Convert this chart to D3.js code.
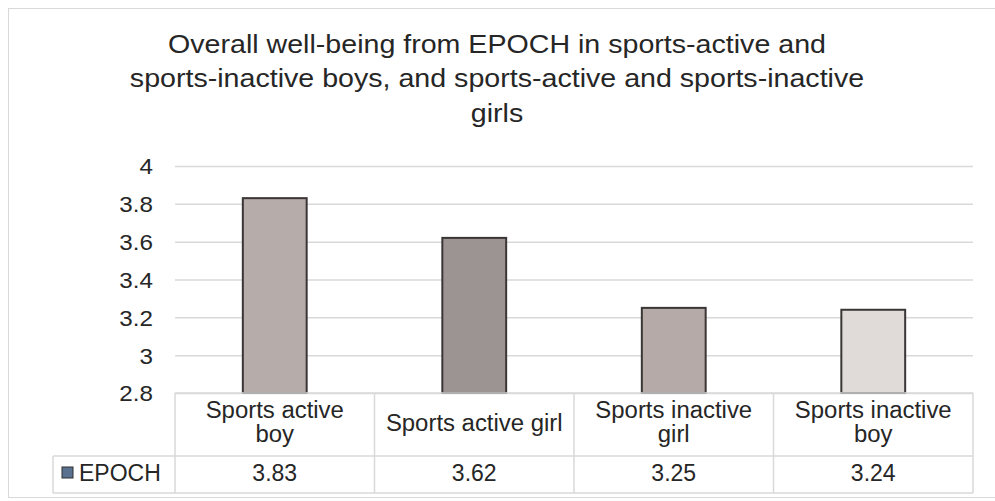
<!DOCTYPE html>
<html>
<head>
<meta charset="utf-8">
<script src="https://cdn.jsdelivr.net/npm/d3@7"></script>
<style>
  html, body { margin: 0; padding: 0; background: #fff; }
  svg text { font-family: "Liberation Sans", Arial, sans-serif; fill: #262626; }
</style>
</head>
<body>
<div class="chart"></div>
<script>
const categories = ['Sports active boy', 'Sports active girl', 'Sports inactive girl', 'Sports inactive boy'];
const categoryLines = [['Sports active', 'boy'], ['Sports active girl'], ['Sports inactive', 'girl'], ['Sports inactive', 'boy']];
const epochValues = [3.83, 3.62, 3.25, 3.24];
const barColors = ['#b6aca9', '#9b9492', '#b5aaa8', '#e0dad8'];
const yTicks = [2.8, 3, 3.2, 3.4, 3.6, 3.8, 4];
const titleLines = [
    'Overall well-being from EPOCH in sports-active and',
    'sports-inactive boys, and sports-active and sports-inactive',
    'girls'
];
const seriesName = 'EPOCH';

(function drawChart() {
    const width = 995, height = 501;
    const plot = { left: 175, right: 973, top: 166, bottom: 393 };
    const rowLine = 456, tableBottom = 493, legendLeft = 53;

    const svg = d3.select('.chart')
        .append('svg')
        .attr('width', width)
        .attr('height', height);

    // outer frame
    svg.append('rect')
        .attr('x', 8.5).attr('y', 8.5)
        .attr('width', 995).attr('height', 489)
        .attr('fill', 'none')
        .attr('stroke', '#d9d9d9');

    // text looks a bit wider than plain Arial in the source, so stretch it slightly
    function stretch(sel, cx, cy, k) {
        sel.attr('transform', `translate(${cx},${cy}) scale(${k},1) translate(${-cx},${-cy})`);
    }

    svg.append('g')
        .selectAll('text')
        .data(titleLines)
        .enter()
        .append('text')
        .attr('x', 497)
        .attr('y', (d, i) => 53 + i * 34.5)
        .attr('text-anchor', 'middle')
        .style('font-size', '26px')
        .text(d => d)
        .each(function(d, i) { stretch(d3.select(this), 497, 53 + i * 34.5, 1.1); });

    const x = d3.scaleBand()
        .domain(categories)
        .range([plot.left, plot.right]);

    const y = d3.scaleLinear()
        .domain([2.8, 4])
        .range([plot.bottom, plot.top]);

    // gridlines
    const grid = svg.append('g')
        .attr('transform', `translate(${plot.left},0)`)
        .call(d3.axisLeft(y)
            .tickValues(yTicks)
            .tickSize(-(plot.right - plot.left))
            .tickFormat(''));
    grid.select('.domain').remove();
    grid.selectAll('.tick line').attr('stroke', '#d9d9d9').attr('stroke-width', 1.5);

    // y labels
    const yAxis = svg.append('g')
        .attr('transform', `translate(${plot.left},0)`)
        .call(d3.axisLeft(y)
            .tickValues(yTicks)
            .tickSize(0)
            .tickPadding(22)
            .tickFormat(d3.format('')));
    yAxis.select('.domain').remove();
    yAxis.selectAll('text')
        .style('font-size', '22px')
        .style('font-family', '"Liberation Sans", Arial, sans-serif')
        .attr('fill', '#262626')
        .attr('dy', '0.36em')
        .each(function() { stretch(d3.select(this), -22, 0, 1.1); });

    // bars
    const barWidth = x.bandwidth() * 0.32;
    svg.append('g')
        .selectAll('rect')
        .data(epochValues)
        .enter()
        .append('rect')
        .attr('x', (d, i) => x(categories[i]) + (x.bandwidth() - barWidth) / 2)
        .attr('y', d => y(d))
        .attr('width', barWidth)
        .attr('height', d => y(2.8) - y(d))
        .attr('fill', (d, i) => barColors[i])
        .attr('stroke', '#3a3636')
        .attr('stroke-width', 2);

    // data table
    const table = svg.append('g')
        .attr('stroke', '#d9d9d9')
        .attr('stroke-width', 1.5)
        .attr('fill', 'none');

    table.append('line').attr('x1', plot.left).attr('x2', plot.right).attr('y1', plot.bottom).attr('y2', plot.bottom);
    table.append('line').attr('x1', legendLeft).attr('x2', plot.right).attr('y1', rowLine).attr('y2', rowLine);
    table.append('line').attr('x1', legendLeft).attr('x2', plot.right).attr('y1', tableBottom).attr('y2', tableBottom);
    table.append('line').attr('x1', legendLeft).attr('x2', legendLeft).attr('y1', rowLine).attr('y2', tableBottom);

    const boundaries = categories.map(c => x(c)).concat([plot.right]);
    table.selectAll('.vline')
        .data(boundaries)
        .enter()
        .append('line')
        .attr('x1', d => d).attr('x2', d => d)
        .attr('y1', plot.bottom).attr('y2', tableBottom);

    // category labels
    const catGroup = svg.append('g');
    categoryLines.forEach((lines, i) => {
        const cx = x(categories[i]) + x.bandwidth() / 2;
        const startY = lines.length === 1 ? 431 : 418;
        lines.forEach((line, j) => {
            const ty = startY + j * 24.5;
            catGroup.append('text')
                .attr('x', cx)
                .attr('y', ty)
                .attr('text-anchor', 'middle')
                .style('font-size', '23px')
                .text(line)
                .call(stretch, cx, ty, 1.04);
        });
    });

    // values row
    svg.append('g')
        .selectAll('text')
        .data(epochValues)
        .enter()
        .append('text')
        .attr('x', (d, i) => x(categories[i]) + x.bandwidth() / 2)
        .attr('y', 481)
        .attr('text-anchor', 'middle')
        .style('font-size', '23px')
        .text(d => d3.format('.2f')(d));

    // legend key
    svg.append('rect')
        .attr('x', 62).attr('y', 467)
        .attr('width', 11).attr('height', 11)
        .attr('fill', '#5a7190')
        .attr('stroke', '#2f2f2f')
        .attr('stroke-width', 1);

    svg.append('text')
        .attr('x', 79)
        .attr('y', 481)
        .style('font-size', '23px')
        .text(seriesName);
})();
</script>
</body>
</html>
